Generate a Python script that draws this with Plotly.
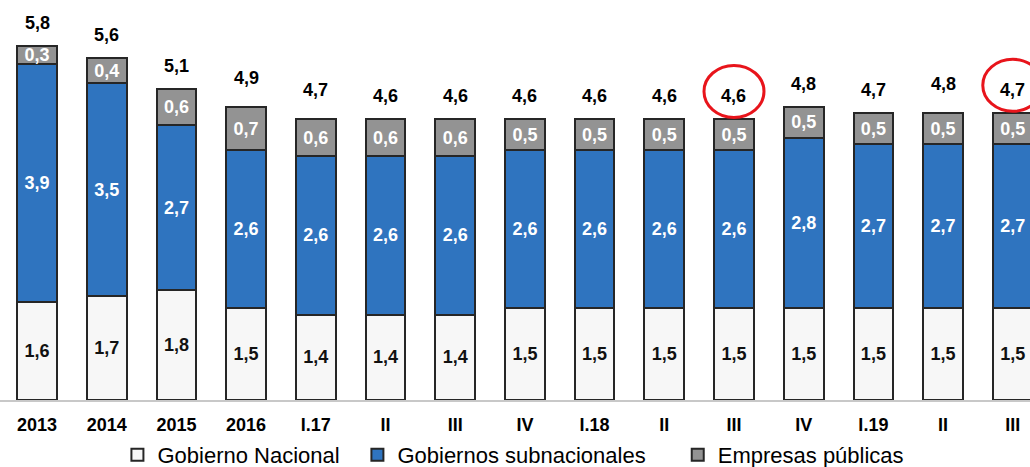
import plotly.graph_objects as go

categories = ["2013", "2014", "2015", "2016", "I.17", "II", "III", "IV",
              "I.18", "II", "III", "IV", "I.19", "II", "III"]
gob_nacional = [1.6, 1.7, 1.8, 1.5, 1.4, 1.4, 1.4, 1.5, 1.5, 1.5, 1.5, 1.5, 1.5, 1.5, 1.5]
gob_subnac = [3.9, 3.5, 2.7, 2.6, 2.6, 2.6, 2.6, 2.6, 2.6, 2.6, 2.6, 2.8, 2.7, 2.7, 2.7]
empresas = [0.3, 0.4, 0.6, 0.7, 0.6, 0.6, 0.6, 0.5, 0.5, 0.5, 0.5, 0.5, 0.5, 0.5, 0.5]
totales = [5.8, 5.6, 5.1, 4.9, 4.7, 4.6, 4.6, 4.6, 4.6, 4.6, 4.6, 4.8, 4.7, 4.8, 4.7]
highlight = [10, 14]

x = list(range(len(categories)))
FONT = "Arial, Liberation Sans, sans-serif"

def fmt(v):
    return f"{v:.1f}".replace(".", ",")

fig = go.Figure()
series = [
    ("Gobierno Nacional", gob_nacional, "#F7F7F7", "#111111", "legend", 0.114),
    ("Gobiernos subnacionales", gob_subnac, "#2F74BF", "#FFFFFF", "legend2", 0.347),
    ("Empresas públicas", empresas, "#939393", "#FFFFFF", "legend3", 0.658),
]
legend_cfg = {}
for name, vals, color, tcolor, leg, lx in series:
    fig.add_trace(go.Bar(
        x=x, y=vals, name=name, legend=leg,
        marker=dict(color=color, line=dict(color="#262626", width=2)),
        width=0.57,
        text=[fmt(v) for v in vals],
        textposition="inside", insidetextanchor="middle", textangle=0,
        constraintext="none", cliponaxis=False,
        textfont=dict(family=FONT, size=18, color=tcolor, weight="bold"),
        hoverinfo="skip",
    ))
    legend_cfg[leg] = dict(orientation="h", x=lx, xanchor="left", y=-0.1375, yanchor="middle",
                           font=dict(family=FONT, size=22, color="#000000"),
                           itemclick=False, bgcolor="rgba(0,0,0,0)")

for i, t in enumerate(totales):
    fig.add_annotation(x=i, y=t, text=f"<b>{fmt(t)}</b>", showarrow=False,
                       yanchor="middle", yshift=23,
                       font=dict(family=FONT, size=18, color="#000000"))

for i in highlight:
    fig.add_shape(type="circle", xref="x", yref="y",
                  xsizemode="pixel", ysizemode="pixel",
                  xanchor=i, yanchor=totales[i],
                  x0=-30, x1=30, y0=2, y1=54,
                  line=dict(color="#E8141B", width=3))

fig.update_layout(
    width=1030, height=467,
    barmode="stack",
    margin=dict(l=0, r=0, t=0, b=67, autoexpand=False),
    plot_bgcolor="white", paper_bgcolor="white",
    font=dict(family=FONT, color="#000000"),
    showlegend=True,
    xaxis=dict(range=[-0.531, 14.247], tickmode="array", tickvals=x,
               ticktext=[f"<b>{c}</b>" for c in categories],
               tickfont=dict(family=FONT, size=18, color="#000000"),
               showgrid=False, zeroline=False, showline=True,
               linecolor="#C8C8C8", linewidth=2,
               ticks="outside", ticklen=7, tickcolor="rgba(0,0,0,0)"),
    yaxis=dict(range=[0, 6.557], visible=False, showgrid=False, zeroline=False),
    **legend_cfg,
)

fig.write_html("out.html", config={"displayModeBar": False},
               post_script="document.body.style.margin='0';document.body.style.overflow='hidden';")
